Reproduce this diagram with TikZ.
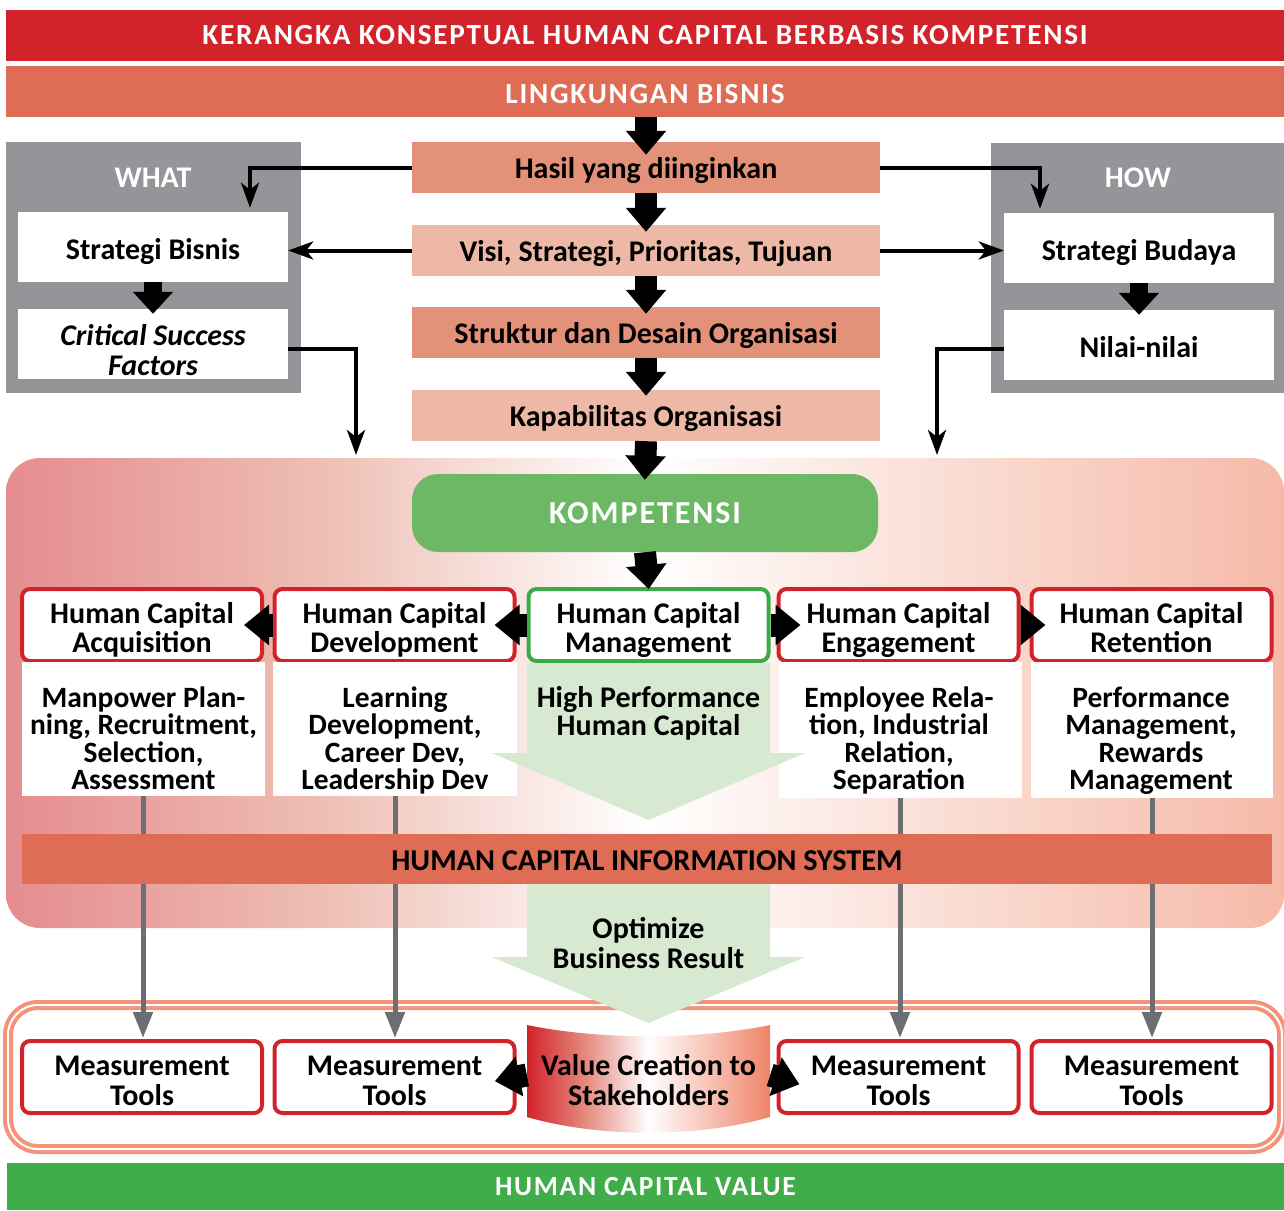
\documentclass[tikz,border=0pt]{standalone}
\usepackage{fontspec}
\setmainfont{Carlito}
\newfontfamily\headfont[LetterSpace=6]{Carlito}
\usetikzlibrary{arrows.meta,calc}

\definecolor{titlered}{HTML}{D2232A}
\definecolor{envorange}{HTML}{DF6C55}
\definecolor{flowdark}{HTML}{E4917A}
\definecolor{flowlight}{HTML}{EDB9A6}
\definecolor{panelgray}{HTML}{939598}
\definecolor{kompgreen}{HTML}{6DB865}
\definecolor{hcmgreen}{HTML}{3DAA4A}
\definecolor{palegreen}{HTML}{D7EAD1}
\definecolor{toolgray}{HTML}{6D6E71}
\definecolor{framesalmon}{HTML}{F4937A}
\definecolor{valuegreen}{HTML}{41AC4A}
\definecolor{bgleft}{HTML}{E58C8F}
\definecolor{bgmidleft}{HTML}{EEBDB2}
\definecolor{bgmidright}{HTML}{FADDD4}
\definecolor{bgright}{HTML}{F6B9A8}
\definecolor{vcsalmon}{HTML}{EF8468}
\definecolor{vcmid}{HTML}{E58A7E}

% background of the competency area: pink on the left, white in the middle, salmon on the right
\pgfdeclarehorizontalshading{compbg}{100bp}{color(0bp)=(bgleft); color(25bp)=(bgleft);
  color(37bp)=(bgmidleft); color(50bp)=(white); color(62bp)=(bgmidright);
  color(75bp)=(bgright); color(100bp)=(bgright)}
\pgfdeclarehorizontalshading{vcshade}{100bp}{color(0bp)=(titlered); color(25bp)=(titlered);
  color(37bp)=(vcmid); color(50bp)=(white); color(75bp)=(vcsalmon); color(100bp)=(vcsalmon)}

\newcommand{\bodysize}{\bfseries\fontsize{30}{29}\selectfont}
\newcommand{\descsize}{\bfseries\fontsize{29.5}{27.5}\selectfont}

\tikzset{
  headbar/.style={minimum width=1278pt, minimum height=51pt, inner sep=0pt,
    font=\headfont\bfseries\fontsize{29.2}{30}\selectfont, text=white},
  flowbox/.style={minimum width=468pt, minimum height=51pt, inner sep=0pt, font=\bodysize,
    text depth=0pt},
  panel/.style={fill=panelgray, inner sep=0pt},
  panelbox/.style={fill=white, minimum width=270pt, minimum height=70pt, inner sep=0pt,
    align=center, font=\bodysize, text height=24pt, text depth=0pt},
  hcbox/.style={draw=titlered, line width=4pt, rounded corners=8pt, fill=white,
    minimum width=240pt, minimum height=72pt, inner sep=0pt, align=center, font=\bodysize,
    text height=55pt, text depth=0pt},
  mtbox/.style={hcbox, font=\bfseries\fontsize{30}{30}\selectfont, text height=57pt},
  descbox/.style={fill=white, minimum width=243pt, minimum height=134pt, inner sep=0pt},
  desctext/.style={align=center, font=\descsize, inner sep=0pt, text depth=0pt},
  blockv/.style={line width=22pt, -{Triangle[length=24pt,width=39pt]}},
  blocksmall/.style={line width=18pt, -{Triangle[length=22pt,width=39pt]}},
  blockh/.style={line width=23pt, -{Triangle[length=25pt,width=39pt]}},
  thinarrow/.style={line width=4pt, -{Stealth[length=25pt,width=18pt,inset=7pt]}},
  toolarrow/.style={draw=toolgray, line width=5pt, -{Triangle[length=26pt,width=19pt]}},
}

\begin{document}
\begin{tikzpicture}[x=1pt,y=-1pt]
\useasboundingbox (0,0) rectangle (1284,1210);

% ---- header bars ----
\node[headbar, fill=titlered] (title) at (645,35) {KERANGKA KONSEPTUAL HUMAN CAPITAL BERBASIS KOMPETENSI};
\node[headbar, fill=envorange, text height=23.5pt, text depth=0pt] (ling) at (645,91.5) {LINGKUNGAN BISNIS};

% ---- WHAT panel ----
\node[panel, minimum width=295pt, minimum height=251pt] (what) at (153.5,267.5) {};
\node[text=white, font=\bodysize] (whatlbl) at (153,178) {WHAT};
\node[panelbox] (sbis) at (153,247) {Strategi Bisnis};
\node[panelbox, font=\bfseries\itshape\fontsize{30}{30}\selectfont, text height=63pt] (csf) at (153,344) {Critical Success\\Factors};
\draw[blocksmall, shorten >=-5pt] (sbis.south) -- (csf.north);

% ---- HOW panel ----
\node[panel, minimum width=293pt, minimum height=250pt] (how) at (1137.5,268) {};
\node[text=white, font=\bodysize] (howlbl) at (1138,178) {HOW};
\node[panelbox] (sbud) at (1139,248) {Strategi Budaya};
\node[panelbox, text height=25pt] (nilai) at (1139,345) {Nilai-nilai};
\draw[blocksmall, shorten >=-5pt] (sbud.south) -- (nilai.north);

% ---- central flow ----
\node[flowbox, fill=flowdark] (hasil) at (646,167.5) {Hasil yang diinginkan};
\node[flowbox, fill=flowlight] (visi) at (646,250.5) {Visi, Strategi, Prioritas, Tujuan};
\node[flowbox, fill=flowdark] (strk) at (646,332.5) {Struktur dan Desain Organisasi};
\node[flowbox, fill=flowlight] (kap) at (646,415.5) {Kapabilitas Organisasi};

\draw[blockv, shorten >=-13pt] (ling.south -| hasil.north) -- (hasil.north);
\draw[blockv, shorten >=-7pt] (hasil.south) -- (visi.north);
\draw[blockv, shorten >=-7pt] (visi.south) -- (strk.north);
\draw[blockv, shorten >=-6pt] (strk.south) -- (kap.north);

% ---- thin connectors to the panels ----
\coordinate (csfin) at (356,455);
\coordinate (nilaiin) at (937,455);
\draw[thinarrow, shorten >=4pt] (hasil.west) -| ([xshift=97pt]sbis.north);
\draw[thinarrow] (visi.west) -- (visi.west -| sbis.east);
\draw[thinarrow, shorten >=4pt] (hasil.east) -| ([xshift=-99pt]sbud.north);
\draw[thinarrow] (visi.east) -- (visi.east -| sbud.west);
\draw[thinarrow] ([yshift=-5pt]csf.east) -| (csfin);
\draw[thinarrow] ([yshift=-4pt]nilai.west) -| (nilaiin);

% ---- competency area ----
\path[shading=compbg, rounded corners=34pt] (6,458) rectangle (1284,928);
\node[fill=kompgreen, rounded corners=26pt, minimum width=466pt, minimum height=78pt,
  inner sep=0pt, text=white, font=\headfont\bfseries\fontsize{32}{32}\selectfont] (komp) at (645,513) {KOMPETENSI};
\draw[blockv, shorten >=-6pt] (kap.south) -- (komp.north);

% bottom frame around the measurement row
\draw[framesalmon, line width=4pt, double=white, double distance=2pt, rounded corners=30pt]
  (8,1005) rectangle (1282,1149);

% ---- the five human capital functions ----
\node[hcbox] (hca) at (142,625) {Human Capital\\Acquisition};
\node[hcbox] (hcd) at (394.5,625) {Human Capital\\Development};
\node[hcbox, draw=hcmgreen] (hcm) at (648.5,625) {Human Capital\\Management};
\node[hcbox] (hce) at (898.5,625) {Human Capital\\Engagement};
\node[hcbox] (hcr) at (1151.5,625) {Human Capital\\Retention};

\node[descbox] (hcad) at (143,729) {};
\node[descbox, minimum width=244pt] (hcdd) at (395,729) {};
\node[descbox, minimum height=136pt] (hced) at (900,730) {};
\node[descbox, minimum width=242pt, minimum height=136pt] (hcrd) at (1152,730) {};
\node[desctext] (hcat) at (143.5,738) {Manpower Plan-\\ning, Recruitment,\\Selection,\\Assessment};
\node[desctext] (hcdt) at (395,738) {Learning\\Development,\\Career Dev,\\Leadership Dev};
\node[desctext] (hcet) at (899,738) {Employee Rela-\\tion, Industrial\\Relation,\\Separation};
\node[desctext] (hcrt) at (1151,738) {Performance\\Management,\\Rewards\\Management};

% high performance arrow
\fill[palegreen] (527,663) -- (770,663) -- (770,753) -- (805,753) -- (648.5,820)
  -- (492,753) -- (527,753) -- cycle;
\node[desctext, font=\bfseries\fontsize{30}{28}\selectfont] (hpt) at (648.5,711) {High Performance\\Human Capital};

\draw[blockv, shorten >=-2pt] (komp.south) -- (hcm.north);
\draw[blockh, shorten >=-22pt] (hcm.west) -- (hcd.east);
\draw[blockh, shorten >=-20pt] (hcd.west) -- (hca.east);
\draw[blockh, shorten >=-24pt] (hcm.east) -- (hce.west);
\draw[blockh, shorten >=-16pt] (hce.east) -- (hcr.west);

% ---- measurement tools ----
\node[mtbox] (mt1) at (142,1077) {Measurement\\Tools};
\node[mtbox] (mt2) at (394.5,1077) {Measurement\\Tools};
\node[mtbox] (mt3) at (898.5,1077) {Measurement\\Tools};
\node[mtbox] (mt4) at (1151.5,1077) {Measurement\\Tools};

\draw[toolarrow, shorten >=1pt] (hcad.south) -- (hcad.south |- mt1.north);
\draw[toolarrow, shorten >=1pt] (hcdd.south) -- (hcdd.south |- mt2.north);
\draw[toolarrow, shorten >=1pt] (hced.south) -- (hced.south |- mt3.north);
\draw[toolarrow, shorten >=1pt] (hcrd.south) -- (hcrd.south |- mt4.north);

% information system bar
\node[fill=envorange, minimum width=1250pt, minimum height=50pt, inner sep=0pt,
  font=\bfseries\fontsize{30.3}{30}\selectfont, text height=23pt, text depth=0pt] (hcis) at (647,859) {HUMAN CAPITAL INFORMATION SYSTEM};

% optimize arrow
\fill[palegreen] (527,884) -- (770,884) -- (770,957) -- (805,957) -- (648.5,1023)
  -- (492,957) -- (527,957) -- cycle;
\node[desctext, font=\bfseries\fontsize{30}{30}\selectfont] (opt) at (648.5,943) {Optimize\\Business Result};

% value creation ribbon
\path[shading=vcshade] (527,1025) .. controls (600,1040) and (697,1040) .. (770,1025)
  -- (770,1117) .. controls (697,1138) and (600,1138) .. (527,1117) -- cycle;
\node[align=center, inner sep=0pt, font=\bfseries\fontsize{30}{30}\selectfont,
  text height=61pt, text depth=0pt, minimum width=243pt, minimum height=92pt] (vc) at (648.5,1075) {Value Creation to\\Stakeholders};
\draw[blockh, shorten >=-22pt] (vc.west) -- (mt2.east);
\draw[blockh, shorten >=-24pt] (vc.east) -- (mt3.west);

% ---- result bar ----
\node[headbar, fill=valuegreen, minimum width=1277pt, minimum height=47pt,
  font=\headfont\bfseries\fontsize{27.6}{30}\selectfont] (value) at (645.5,1186.5) {HUMAN CAPITAL VALUE};
\end{tikzpicture}
\end{document}
